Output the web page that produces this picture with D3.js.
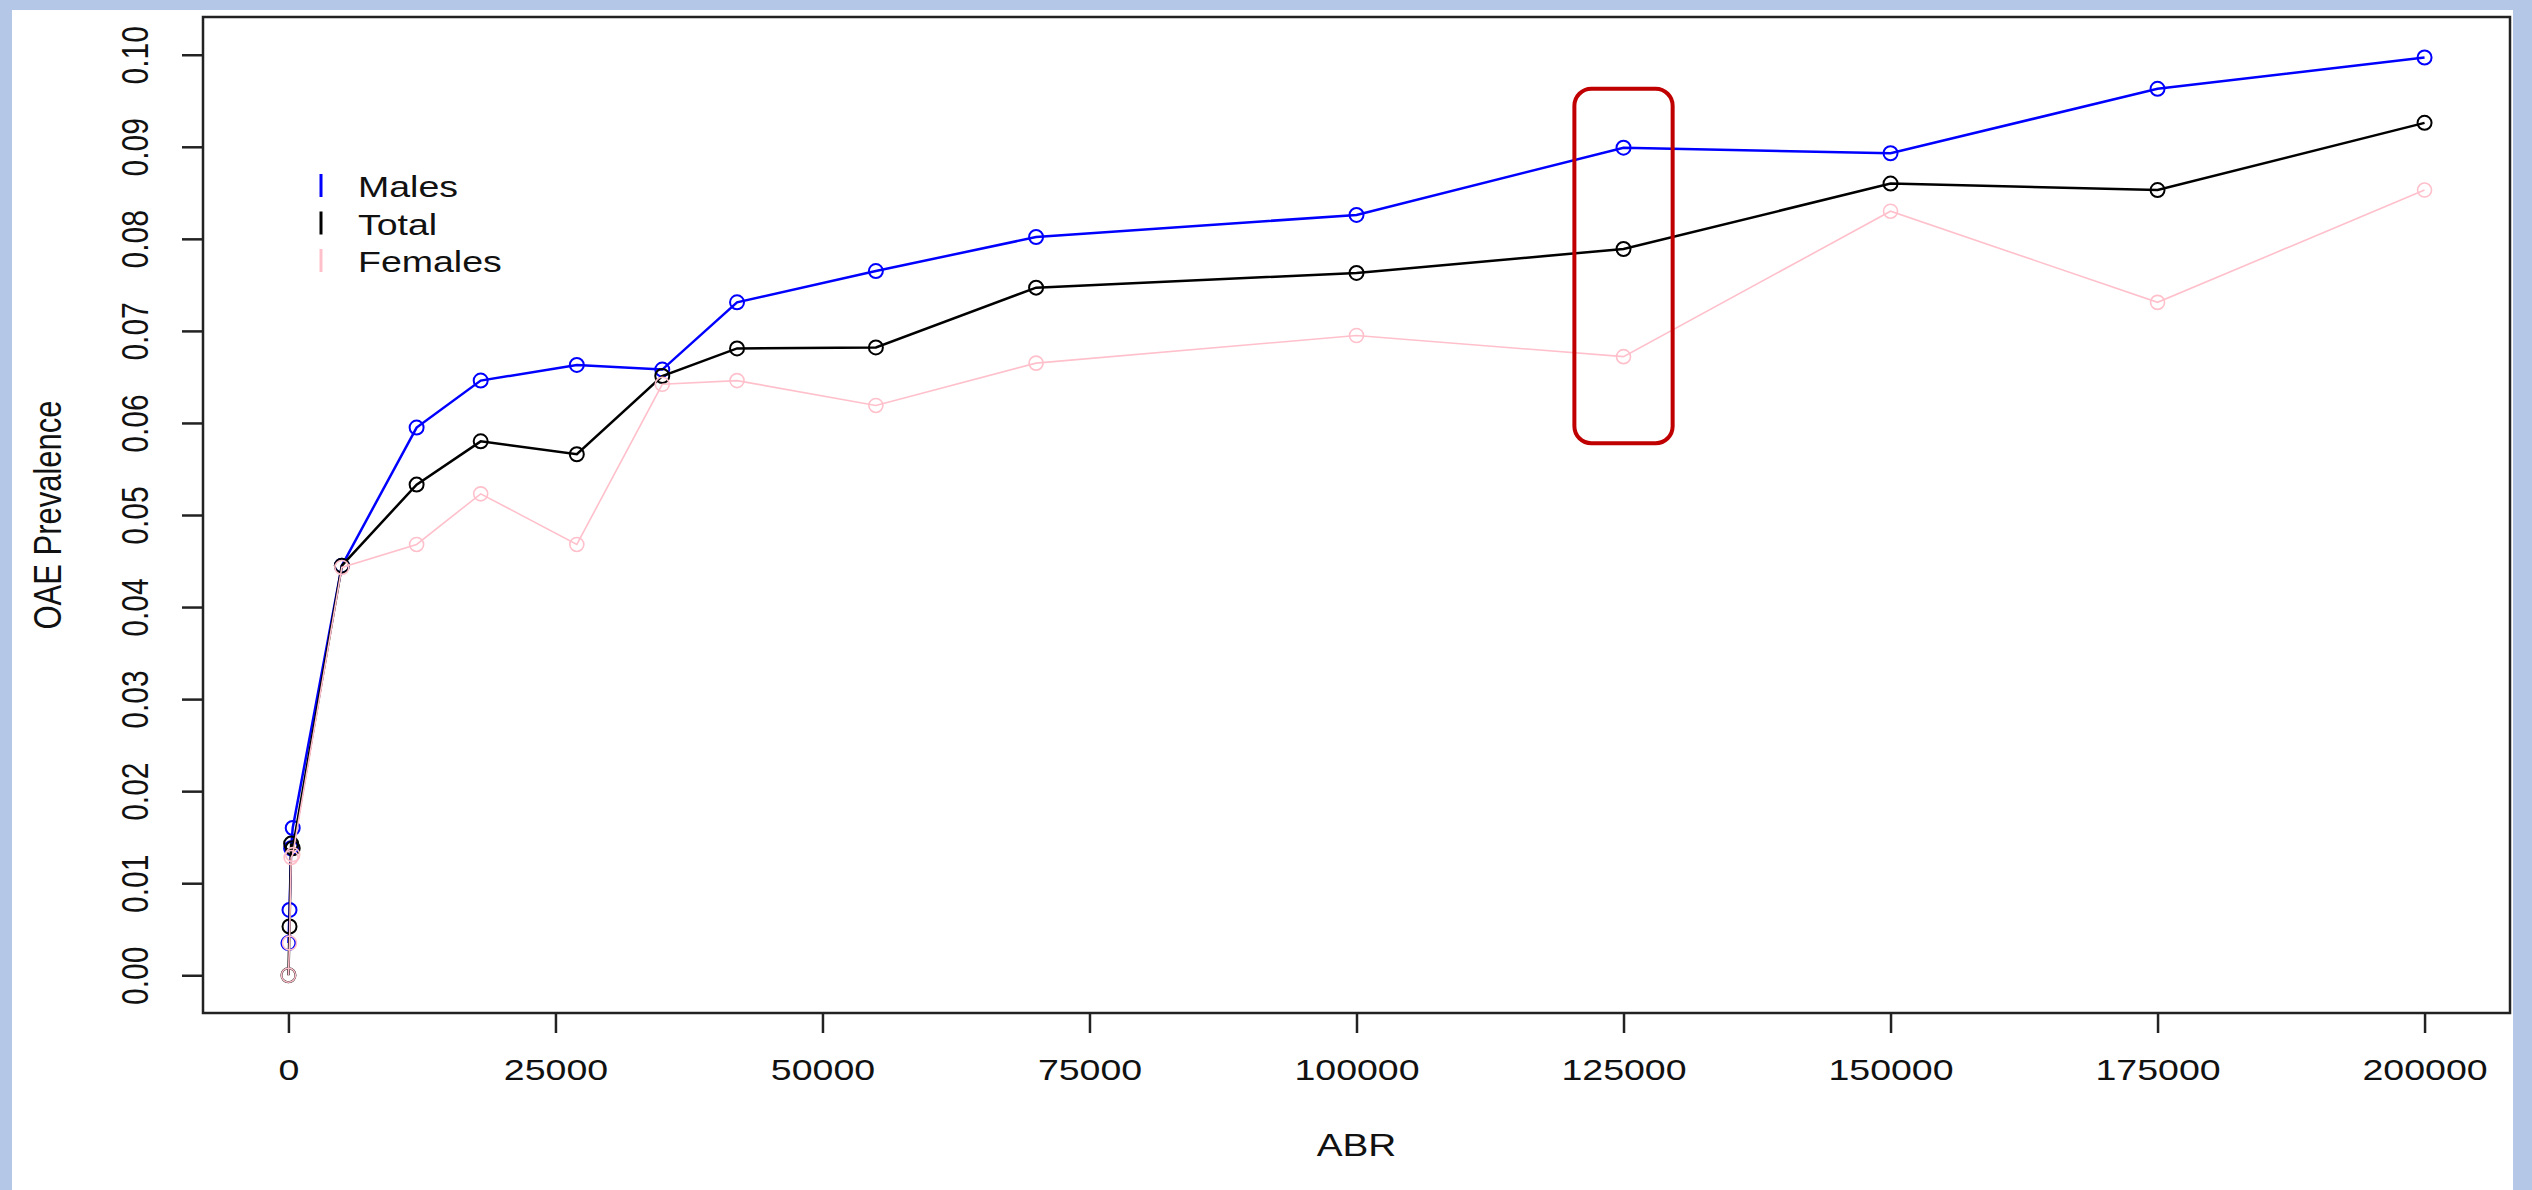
<!DOCTYPE html>
<html>
<head>
<meta charset="utf-8">
<script src="https://cdn.jsdelivr.net/npm/d3@7"></script>
<style>
  html, body { margin: 0; padding: 0; background: #b4c7e7; }
  svg { display: block; }
  text { font-family: Arial, "Liberation Sans", sans-serif; fill: #111; }
</style>
</head>
<body>
<svg id="chart" width="2532" height="1190"></svg>
<script>
// values
const abr = [0, 100, 250, 400, 5000, 12000, 18000, 27000, 35000, 42000, 55000, 70000, 100000, 125000, 150000, 175000, 200000];
const males = [0.0035, 0.0071, 0.0138, 0.0160, 0.0445, 0.0595, 0.0646, 0.0663, 0.0658, 0.0731, 0.0765, 0.0802, 0.0826, 0.0899, 0.0893, 0.0963, 0.0997];
const total = [0.0000, 0.0053, 0.0143, 0.0138, 0.0445, 0.0533, 0.0580, 0.0566, 0.0651, 0.0681, 0.0682, 0.0747, 0.0763, 0.0789, 0.0860, 0.0853, 0.0926];
const females = [0.0000, 0.0035, 0.0128, 0.0131, 0.0443, 0.0468, 0.0523, 0.0468, 0.0642, 0.0646, 0.0619, 0.0665, 0.0695, 0.0672, 0.0830, 0.0731, 0.0853];

const xTicks = [0, 25000, 50000, 75000, 100000, 125000, 150000, 175000, 200000];
const yTicks = [0, 0.01, 0.02, 0.03, 0.04, 0.05, 0.06, 0.07, 0.08, 0.09, 0.10];

const legendNames = ["Males", "Total", "Females"];
const legendColors = ["blue", "black", "pink"];

// the red box drawn round the 125000 column
const highlightAbr = [120400, 129600];
const highlightVal = [0.0578, 0.0963];

const svg = d3.select("#chart");

// white page, the blue is just the body showing round it
svg.append("rect")
    .attr("x", 12).attr("y", 10)
    .attr("width", 2501).attr("height", 1180)
    .attr("fill", "#fff");

// plot box edges (window.top is taken, hence the names)
const plotLeft = 203, plotRight = 2510, plotTop = 17, plotBottom = 1013;

// R pads the range by 4% each side
const x = d3.scaleLinear().domain([-8000, 208000]).range([plotLeft, plotRight]);
const y = d3.scaleLinear().domain([-0.0041, 0.1041]).range([plotBottom, plotTop]);

// the picture is stretched sideways, so text gets stretched too
const stretch = 1.25;

// axes
const xAxis = svg.append("g")
    .attr("transform", "translate(0," + plotBottom + ")")
    .call(d3.axisBottom(x).tickValues(xTicks).tickSize(20).tickFormat(d3.format("d")));
xAxis.select(".domain").remove();
xAxis.selectAll("line").attr("stroke", "#222").attr("stroke-width", 2.5);
xAxis.selectAll("text")
    .attr("font-size", 30)
    .attr("dy", null)
    .attr("y", 0)
    .attr("fill", "#111")
    .attr("transform", "translate(0,67) scale(" + stretch + ",1)");

const yAxis = svg.append("g")
    .attr("transform", "translate(" + plotLeft + ",0)")
    .call(d3.axisLeft(y).tickValues(yTicks).tickSize(21).tickFormat(d3.format(".2f")));
yAxis.select(".domain").remove();
yAxis.selectAll("line").attr("stroke", "#222").attr("stroke-width", 2.5);
yAxis.selectAll("text")
    .attr("font-size", 30)
    .attr("x", 0)
    .attr("dy", null)
    .attr("fill", "#111")
    .attr("text-anchor", "middle")
    .attr("transform", "translate(-55,0) scale(" + stretch + ",1) rotate(-90)");

// box round the plot
svg.append("rect")
    .attr("x", plotLeft).attr("y", plotTop)
    .attr("width", plotRight - plotLeft).attr("height", plotBottom - plotTop)
    .attr("fill", "none")
    .attr("stroke", "#222")
    .attr("stroke-width", 2.5);

// axis titles
svg.append("text")
    .attr("text-anchor", "middle")
    .attr("font-size", 31)
    .attr("transform", "translate(" + (plotLeft + plotRight) / 2 + ",1156) scale(" + stretch + ",1)")
    .text("ABR");

svg.append("text")
    .attr("text-anchor", "middle")
    .attr("font-size", 31)
    .attr("transform", "translate(61," + (plotTop + plotBottom) / 2 + ") scale(" + stretch + ",1) rotate(-90)")
    .text("OAE Prevalence");

// series
const series = [
  { name: "Males", values: males, color: "blue", width: 2.5, cw: 2 },
  { name: "Total", values: total, color: "black", width: 2.5, cw: 2 },
  { name: "Females", values: females, color: "pink", width: 1.6, cw: 1.6 }
];

const line = d3.line()
    .x(function(d) { return x(d[0]); })
    .y(function(d) { return y(d[1]); });

series.forEach(function(s) {
  const pts = abr.map(function(a, i) { return [a, s.values[i]]; });
  const g = svg.append("g").attr("class", "series");
  g.append("path")
      .datum(pts)
      .attr("d", line)
      .attr("fill", "none")
      .attr("stroke", s.color)
      .attr("stroke-width", s.width);
  g.selectAll("circle")
      .data(pts)
      .enter().append("circle")
      .attr("cx", function(d) { return x(d[0]); })
      .attr("cy", function(d) { return y(d[1]); })
      .attr("r", 7)
      .attr("fill", "none")
      .attr("stroke", s.color)
      .attr("stroke-width", s.cw);
});

// legend, R style with just a little bar as key
const legend = svg.append("g").attr("transform", "translate(321,197)");
legendNames.forEach(function(name, i) {
  const row = legend.append("g").attr("transform", "translate(0," + i * 37.5 + ")");
  row.append("line")
      .attr("x1", 0).attr("x2", 0)
      .attr("y1", -23).attr("y2", 0)
      .attr("stroke", legendColors[i])
      .attr("stroke-width", 3);
  row.append("text")
      .attr("font-size", 30)
      .attr("transform", "translate(37,0) scale(" + stretch + ",1)")
      .text(name);
});

// highlight box
svg.append("rect")
    .attr("x", x(highlightAbr[0]))
    .attr("y", y(highlightVal[1]))
    .attr("width", x(highlightAbr[1]) - x(highlightAbr[0]))
    .attr("height", y(highlightVal[0]) - y(highlightVal[1]))
    .attr("rx", 17).attr("ry", 17)
    .attr("fill", "none")
    .attr("stroke", "#c00000")
    .attr("stroke-width", 4);
</script>
</body>
</html>
